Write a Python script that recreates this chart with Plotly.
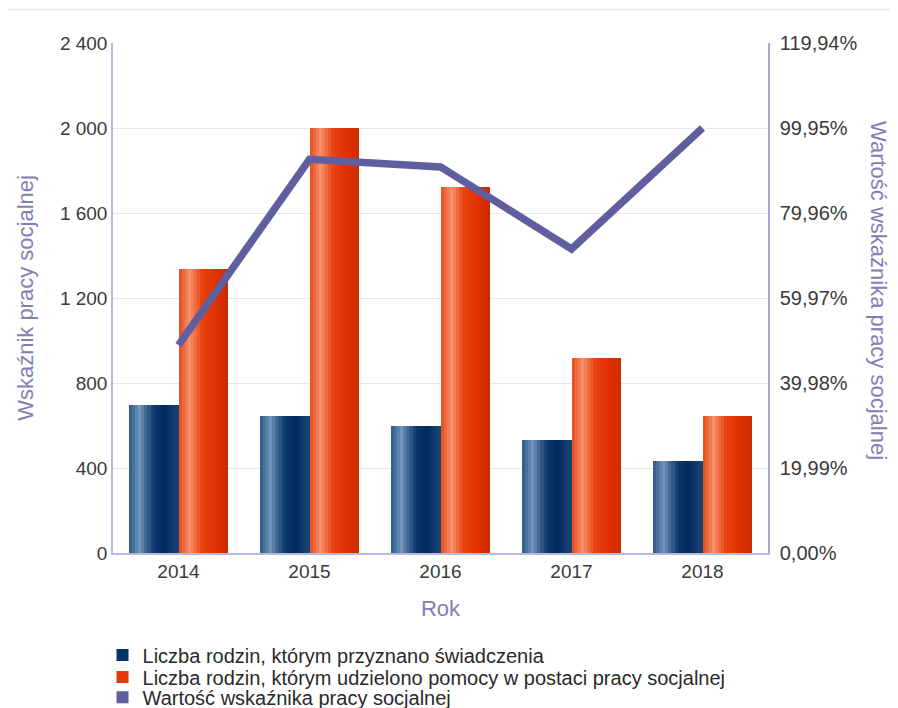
import plotly.graph_objects as go

years = ["2014", "2015", "2016", "2017", "2018"]
swiadczenia = [698, 645, 600, 532, 435]
praca_socjalna = [1338, 2000, 1722, 918, 645]
wskaznik = [48.9, 92.6, 90.8, 71.5, 99.95]

left_ticks = [0, 400, 800, 1200, 1600, 2000, 2400]
left_ticktext = ["0", "400", "800", "1 200", "1 600", "2 000", "2 400"]
right_ticks = [0, 19.99, 39.98, 59.97, 79.96, 99.95, 119.94]
right_ticktext = ["0,00%", "19,99%", "39,98%", "59,97%", "79,96%", "99,95%", "119,94%"]

name_blue = "Liczba rodzin, którym przyznano świadczenia"
name_red = "Liczba rodzin, którym udzielono pomocy w postaci pracy socjalnej"
name_line = "Wartość wskaźnika pracy socjalnej"

FONT = "Liberation Sans, Arial, sans-serif"
LINE_COLOR = "#5f5f9f"


def hex2rgb(h):
    h = h.lstrip("#")
    return tuple(int(h[i:i + 2], 16) for i in (0, 2, 4))


def grad(stops, t):
    for (t0, c0), (t1, c1) in zip(stops, stops[1:]):
        if t0 <= t <= t1:
            f = (t - t0) / (t1 - t0) if t1 > t0 else 0
            a, b = hex2rgb(c0), hex2rgb(c1)
            return "rgb(%d,%d,%d)" % tuple(round(a[i] + (b[i] - a[i]) * f) for i in range(3))
    return stops[-1][1]


blue_stops = [(0, "#2b5888"), (0.22, "#7094bb"), (0.5, "#0d386b"), (0.72, "#002a5f"), (1, "#1b4574")]
red_stops = [(0, "#e44a1a"), (0.22, "#f8916b"), (0.48, "#e8420e"), (0.75, "#e03000"), (1, "#cc2c00")]

W = 0.38
N = 16
fig = go.Figure()

for base_off, stops, vals, name, lg in [(-W, blue_stops, swiadczenia, name_blue, "legend"),
                                        (0.0, red_stops, praca_socjalna, name_red, "legend2")]:
    sw = W / N
    for i in range(N):
        t = (i + 0.5) / N
        fig.add_trace(go.Bar(
            x=years, y=vals, width=sw * 1.06, offset=base_off + i * sw,
            marker=dict(color=grad(stops, t), line=dict(width=0)),
            name=name, showlegend=False, hoverinfo="skip",
        ))
    fig.add_trace(go.Bar(
        x=[None], y=[None], name=name, legend=lg, showlegend=True,
        marker=dict(color=grad(stops, 0.6), line=dict(width=0)),
    ))

fig.add_trace(go.Scatter(
    x=years, y=wskaznik, yaxis="y2", mode="lines", name=name_line, showlegend=False,
    line=dict(color=LINE_COLOR, width=7.5),
))
# legend entry for the line (small thick dash like the original key)
fig.add_trace(go.Scatter(
    x=[None], y=[None], yaxis="y2", mode="markers", name=name_line, legend="legend3",
    marker=dict(symbol="square", size=12, color=LINE_COLOR, line=dict(width=0)),
))

axis_font = dict(family=FONT, size=19, color="#3a3a3a")
right_font = dict(family=FONT, size=20, color="#3a3a3a")
title_font = dict(family=FONT, size=22, color="#8080b4")
legend_font = dict(family=FONT, size=20, color="#2a2a2a")


def leg(y):
    return dict(x=-0.016, y=y, xanchor="left", yanchor="middle", font=legend_font,
                bgcolor="rgba(0,0,0,0)", itemwidth=30, borderwidth=0)


# page body has an 8px margin, so the figure is 8px smaller and margins shifted
fig.update_layout(
    width=890, height=700,
    margin=dict(l=105, r=130, t=35, b=155, autoexpand=False),
    paper_bgcolor="white", plot_bgcolor="white",
    barmode="overlay", bargap=0,
    font=dict(family=FONT),
    xaxis=dict(
        type="category", tickfont=axis_font, showline=True, linecolor="#b8b8dc", linewidth=1.5,
        ticks="", title=dict(text="Rok", font=title_font, standoff=20),
    ),
    yaxis=dict(
        range=[0, 2400], tickvals=left_ticks, ticktext=left_ticktext, tickfont=axis_font,
        showline=True, linecolor="#b8b8dc", linewidth=1.5, gridcolor="#e8e8f4", gridwidth=1,
        ticks="", zeroline=False,
        title=dict(text="Wskaźnik pracy socjalnej", font=title_font, standoff=20),
    ),
    yaxis2=dict(
        overlaying="y", side="right", range=[0, 119.94], tickvals=right_ticks, ticktext=right_ticktext,
        tickfont=right_font, showline=True, linecolor="#a8a8d4", linewidth=1.5, showgrid=False,
        zeroline=False, ticks="", ticklabelstandoff=6,
    ),
    legend=leg(-0.2),
    legend2=leg(-0.243),
    legend3=leg(-0.283),
    showlegend=True,
)

fig.add_annotation(
    text="Wartość wskaźnika pracy socjalnej", textangle=90, xref="paper", yref="paper",
    x=1.0, y=0.5, xanchor="center", yanchor="middle", xshift=111, yshift=8,
    showarrow=False, font=title_font,
)
fig.add_shape(type="line", xref="paper", yref="paper", x0=-0.16, x1=1.2, y0=1.065, y1=1.065,
              line=dict(color="#ebebf3", width=2))

fig.write_html("out.html")
